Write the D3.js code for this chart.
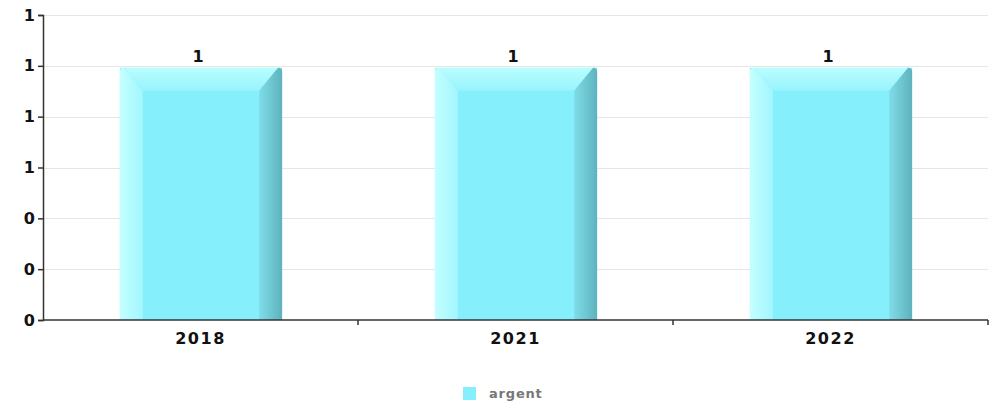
<!DOCTYPE html>
<html><head><meta charset="utf-8">
<script src="https://cdn.jsdelivr.net/npm/d3@7"></script>
<style>body{margin:0;background:#fff}svg{display:block}</style>
</head><body>
<script>
const categories = ["2018", "2021", "2022"];
const values = [1, 1, 1];
const seriesName = "argent";
const yTicks = [0, 0.2, 0.4, 0.6, 0.8, 1.0, 1.2];

const W = 998, H = 404;
const m = {left: 43, right: 10, top: 15, bottom: 84};
const svg = d3.select("body").append("svg").attr("width", W).attr("height", H)
  .style("font-family", "'DejaVu Sans', sans-serif");

const x = d3.scaleBand().domain(categories).range([m.left, W - m.right]);
const y = d3.scaleLinear().domain([0, 1.2]).range([H - m.bottom, m.top]);

const defs = svg.append("defs");
function lg(id, x1, y1, x2, y2, stops) {
  const g = defs.append("linearGradient").attr("id", id)
    .attr("x1", x1).attr("y1", y1).attr("x2", x2).attr("y2", y2);
  stops.forEach(s => g.append("stop").attr("offset", s[0]).attr("stop-color", s[1]));
}
lg("gLeft", 0, 0, 1, 0, [[0, "#c4ffff"], [1, "#a2f6ff"]]);
lg("gTop", 0, 0, 0, 1, [[0, "#b8feff"], [1, "#98f3fd"]]);
lg("gRight", 0, 0, 1, 0, [[0, "#7fdde8"], [1, "#5eb2bd"]]);

// grid
svg.append("g").selectAll("line").data(yTicks.slice(1)).join("line")
  .attr("x1", m.left).attr("x2", W - m.right)
  .attr("y1", d => Math.round(y(d)) + 0.5).attr("y2", d => Math.round(y(d)) + 0.5)
  .attr("stroke", "#e6e6e6").attr("stroke-width", 1);

// bars
const bw = x.bandwidth() * 0.515;
const bev = 23;
const bars = svg.append("g").selectAll("g").data(categories.map((c, i) => ({c, v: values[i]}))).join("g");
bars.each(function(d) {
  const g = d3.select(this);
  const x0 = x(d.c) + (x.bandwidth() - bw) / 2 + 0.5, x1 = x0 + bw;
  const y0 = y(d.v) + 2, y1 = y(0);
  const r = 4;
  g.append("rect").attr("x", x0).attr("y", y0).attr("width", bw).attr("height", y1 - y0).attr("fill", "#86effc");
  g.append("path").attr("d", `M${x0},${y0 + r} Q${x0},${y0} ${x0 + r},${y0} L${x0 + bev},${y0 + bev} L${x0 + bev},${y1} L${x0},${y1} Z`)
    .attr("fill", "url(#gLeft)");
  g.append("path").attr("d", `M${x0 + r},${y0} L${x1 - r},${y0} L${x1 - bev},${y0 + bev} L${x0 + bev},${y0 + bev} Z`)
    .attr("fill", "url(#gTop)");
  g.append("path").attr("d", `M${x1 - r},${y0} Q${x1},${y0} ${x1},${y0 + r} L${x1},${y1} L${x1 - bev},${y1} L${x1 - bev},${y0 + bev} Z`)
    .attr("fill", "url(#gRight)");
  g.append("text").attr("x", x0 + bw / 2 - 3).attr("y", y(d.v) - 4)
    .attr("text-anchor", "middle").attr("font-size", 16).attr("font-weight", "bold").attr("fill", "#111")
    .text(d3.format("d")(d.v));
});

// y axis
const yAxis = svg.append("g").attr("transform", `translate(${m.left},0)`)
  .call(d3.axisLeft(y).tickValues(yTicks).tickFormat(d3.format(".0f")).tickSize(5).tickPadding(3));
yAxis.select(".domain").attr("stroke", "#333").attr("stroke-width", 1.5);
yAxis.selectAll(".tick line").attr("stroke", "#333").attr("stroke-width", 1.5);
yAxis.selectAll("text").attr("font-size", 16).attr("font-weight", "bold").attr("fill", "#111")
  .attr("font-family", "'DejaVu Sans', sans-serif");

// x axis
const xAxis = svg.append("g").attr("transform", `translate(0,${y(0)})`);
xAxis.append("line").attr("x1", m.left).attr("x2", W - m.right).attr("stroke", "#333").attr("stroke-width", 1.5);
xAxis.selectAll("line.tk").data(categories).join("line").attr("class", "tk")
  .attr("x1", d => x(d) + x.bandwidth()).attr("x2", d => x(d) + x.bandwidth())
  .attr("y1", 0).attr("y2", 5).attr("stroke", "#333").attr("stroke-width", 1.5);
xAxis.selectAll("text").data(categories).join("text")
  .attr("x", d => x(d) + x.bandwidth() / 2).attr("y", 24)
  .attr("text-anchor", "middle").attr("font-size", 16).attr("font-weight", "bold").attr("fill", "#111")
  .attr("letter-spacing", 1.5).text(d => d);

// legend
const leg = svg.append("g").attr("transform", `translate(463,387)`);
leg.append("rect").attr("width", 13).attr("height", 13).attr("fill", "#86effc");
leg.append("text").attr("x", 26).attr("y", 11).attr("font-size", 13).attr("font-weight", "bold")
  .attr("letter-spacing", 0.8).attr("fill", "#777").text(seriesName);
</script>
</body></html>
